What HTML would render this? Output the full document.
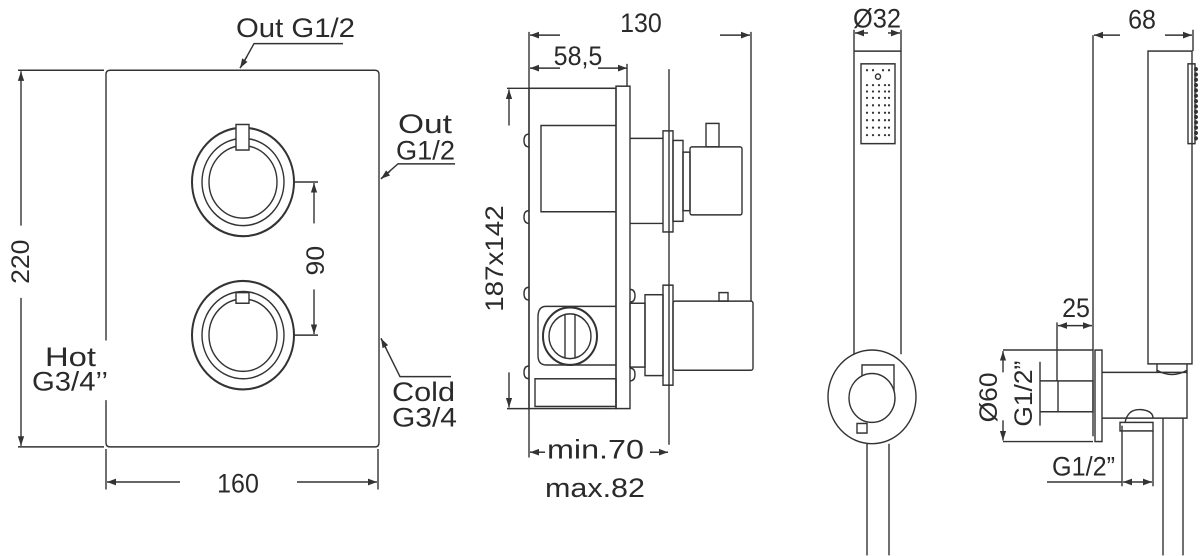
<!DOCTYPE html>
<html><head><meta charset="utf-8"><style>
html,body{margin:0;padding:0;background:#fff;width:1200px;height:556px;overflow:hidden}
svg{display:block}
text{font-family:"Liberation Sans",sans-serif;fill:#2a2a2a;font-size:25px}
</style></head><body>
<svg width="1200" height="556" viewBox="0 0 1200 556" xmlns="http://www.w3.org/2000/svg">
<defs>
<marker id="a" viewBox="0 0 10 10" refX="10" refY="5" markerWidth="9" markerHeight="9" orient="auto-start-reverse" markerUnits="userSpaceOnUse"><path d="M0,1.5 L10,5 L0,8.5 z" fill="#333"/></marker>
</defs>
<g transform="scale(1 1.064)">
<g fill="none" stroke="#333" stroke-width="1.4">
<!-- Panel 1 -->
<path d="M106,320 V70 Q106,66 110,66 H375 Q379,66 379,70 V416 Q379,420 375,420 H110 Q106,420 106,416 V376"/>
<circle cx="243" cy="171" r="51" stroke-width="2"/><circle cx="243" cy="171" r="41"/><circle cx="243" cy="171" r="34"/>
<rect x="236" y="117" width="13" height="24" fill="#fff"/>
<circle cx="243" cy="315" r="51" stroke-width="2"/><circle cx="243" cy="315" r="41"/><circle cx="243" cy="315" r="34"/>
<rect x="236" y="275" width="13" height="10" fill="#fff"/>
<path d="M294,171 H318 M294,315 H318"/>
<path d="M314,210 V172" marker-end="url(#a)"/><path d="M314,272 V314" marker-end="url(#a)"/>
<path d="M18,66 H104 M18,420 H104"/>
<path d="M21,212 V67" marker-end="url(#a)"/><path d="M21,280 V419" marker-end="url(#a)"/>
<path d="M106,422 V460 M378,422 V460"/>
<path d="M180,453 H107" marker-end="url(#a)"/><path d="M297,453 H377" marker-end="url(#a)"/>
<path d="M343,41 H254 L241,63" /><path d="M247,53 L240,64" marker-end="url(#a)"/>
<path d="M455,154 H398 L381,168"/><path d="M390,161 L381,168" marker-end="url(#a)"/>
<path d="M451,354 H400 L381,318"/><path d="M386,327 L381,318" marker-end="url(#a)"/>
<!-- Panel 2 -->
<path d="M560,33 H530" marker-end="url(#a)"/><path d="M720,33 H750" marker-end="url(#a)"/>
<path d="M529,30 V384 M751,30 V283"/>
<path d="M560,64 H530" marker-end="url(#a)"/><path d="M598,64 H627" marker-end="url(#a)"/>
<path d="M627,60 V81"/>
<path d="M507,83 H616 M507,384 H529"/>
<rect x="529" y="83" width="87" height="301"/>
<rect x="616" y="81" width="14" height="303"/>
<path d="M616,118 H541 V199 H616"/>
<path d="M529,126 q-5,0 -5,6 q0,6 5,6 M529,198 q-5,0 -5,6 q0,6 5,6 M529,270 q-5,0 -5,6 q0,6 5,6 M529,344 q-5,0 -5,6 q0,6 5,6"/>
<path d="M630,272 q5,0 5,6 q0,6 -5,6 M630,346 q5,0 5,6 q0,6 -5,6"/>
<path d="M669,65 V418"/>
<path d="M630,130 H663 M630,210 H663"/>
<rect x="663" y="123" width="10" height="95"/>
<rect x="673" y="132" width="10" height="76"/>
<rect x="683" y="143" width="7" height="55"/>
<rect x="690" y="138" width="52" height="64" rx="2"/>
<rect x="706" y="116" width="13" height="22"/>
<rect x="630" y="285" width="15" height="60"/>
<rect x="645" y="277" width="18" height="76"/>
<rect x="663" y="268" width="10" height="94"/>
<rect x="673" y="283" width="80" height="65" rx="2"/>
<rect x="719" y="275" width="9" height="8"/>
<path d="M616,288 H546 Q538,288 538,298 V334 Q538,343 546,343 H616"/>
<circle cx="570" cy="316" r="27" stroke-width="2"/><circle cx="570" cy="316" r="21"/>
<path d="M565,296 V336 M575,296 V336"/>
<rect x="535" y="356" width="81" height="26"/>
<path d="M509,118 V84" marker-end="url(#a)"/><path d="M509,350 V383" marker-end="url(#a)"/>
<path d="M545,425 H530" marker-end="url(#a)"/><path d="M650,425 H668" marker-end="url(#a)"/>
<path d="M529,384 V430"/>
<!-- Panel 3 -->
<path d="M868,31 H855" marker-end="url(#a)"/><path d="M888,31 H900" marker-end="url(#a)"/>
<path d="M854,28 V48 M901,28 V48"/>
<path d="M854,48 H901 V333 M854,48 V333"/>
<rect x="861" y="60" width="34" height="75"/>
<circle cx="872" cy="373" r="44"/>
<rect x="862" y="343" width="32" height="30" fill="#fff"/>
<circle cx="872" cy="374" r="23" fill="#fff"/>
<rect x="857" y="398" width="10" height="9"/>
<path d="M867,417 V522 M889,417 V522"/>
<circle cx="878" cy="72" r="2.5"/>
<!-- Panel 4 -->
<path d="M1120,33 H1094" marker-end="url(#a)"/><path d="M1165,33 H1192" marker-end="url(#a)"/>
<path d="M1093,33 V410 M1193,28 V48"/>
<rect x="1148" y="48" width="44" height="294"/>
<rect x="1188" y="60" width="7" height="75"/>
<rect x="1095" y="329" width="7" height="86"/>
<path d="M1102,350 H1187 V393 H1102"/>
<path d="M1157,342 V350 M1187,342 V350 M1157,348 Q1172,356 1187,348"/>
<path d="M1163,393 V522 M1183,393 V522"/>
<path d="M1125,397 Q1128,384 1141,385 Q1153,386 1153,393"/>
<rect x="1120" y="397" width="33" height="8"/>
<path d="M1003,329 H1093 M1003,415 H1093"/>
<path d="M1003,350 V330" marker-end="url(#a)"/><path d="M1003,395 V414" marker-end="url(#a)"/>
<path d="M1040,340 V400"/>
<path d="M1040,358 H1058 M1040,387 H1058"/>
<rect x="1058" y="358" width="35" height="29"/>
<path d="M1057,303 V358"/>
<path d="M1075,306 H1058" marker-end="url(#a)"/><path d="M1075,306 H1092" marker-end="url(#a)"/>
<path d="M1047,453 H1122 M1122,400 V457 M1153,405 V457"/>
<path d="M1138,453 H1123" marker-end="url(#a)"/><path d="M1138,453 H1152" marker-end="url(#a)"/>
</g>
<g>
<text x="236" y="35" textLength="119" lengthAdjust="spacingAndGlyphs">Out G1/2</text>
<text x="398" y="125" textLength="54" lengthAdjust="spacingAndGlyphs">Out</text><text x="396" y="150" textLength="59" lengthAdjust="spacingAndGlyphs">G1/2</text>
<text x="392" y="377" textLength="63" lengthAdjust="spacingAndGlyphs">Cold</text><text x="392" y="401" textLength="65" lengthAdjust="spacingAndGlyphs">G3/4</text>
<text x="45" y="344" textLength="51" lengthAdjust="spacingAndGlyphs">Hot</text><text x="32" y="367" textLength="76" lengthAdjust="spacingAndGlyphs">G3/4’’</text>
<text x="238" y="463" text-anchor="middle">160</text>
<text transform="translate(29,246) rotate(-90)" text-anchor="middle">220</text>
<text transform="translate(324,245) rotate(-90)" text-anchor="middle">90</text>
<text x="641" y="30" text-anchor="middle">130</text>
<text x="578" y="61" text-anchor="middle">58,5</text>
<text transform="translate(503,293) rotate(-90)" textLength="100" lengthAdjust="spacingAndGlyphs">187x142</text>
<text x="547" y="431" textLength="97" lengthAdjust="spacingAndGlyphs">min.70</text>
<text x="545" y="467" textLength="100" lengthAdjust="spacingAndGlyphs">max.82</text>
<text x="853" y="26" textLength="48" lengthAdjust="spacingAndGlyphs">Ø32</text>
<text x="1142" y="27" text-anchor="middle">68</text>
<text x="1076" y="298" text-anchor="middle">25</text>
<text transform="translate(997,397) rotate(-90)" textLength="47" lengthAdjust="spacingAndGlyphs">Ø60</text>
<text transform="translate(1032,401) rotate(-90)" textLength="62" lengthAdjust="spacingAndGlyphs">G1/2”</text>
<text x="1052" y="447" textLength="63" lengthAdjust="spacingAndGlyphs">G1/2”</text>
</g>
<g fill="#333">
<circle cx="867" cy="66" r="1.1"/><circle cx="873" cy="66" r="1.1"/><circle cx="883" cy="66" r="1.1"/><circle cx="889" cy="66" r="1.1"/>
<circle cx="867" cy="80" r="1.1"/><circle cx="873" cy="80" r="1.1"/><circle cx="879" cy="80" r="1.1"/><circle cx="885" cy="80" r="1.1"/><circle cx="889" cy="80" r="1.1"/>
<circle cx="867" cy="86" r="1.1"/><circle cx="873" cy="86" r="1.1"/><circle cx="879" cy="86" r="1.1"/><circle cx="885" cy="86" r="1.1"/><circle cx="889" cy="86" r="1.1"/>
<circle cx="867" cy="92" r="1.1"/><circle cx="873" cy="92" r="1.1"/><circle cx="879" cy="92" r="1.1"/><circle cx="885" cy="92" r="1.1"/><circle cx="889" cy="92" r="1.1"/>
<circle cx="867" cy="99" r="1.1"/><circle cx="873" cy="99" r="1.1"/><circle cx="879" cy="99" r="1.1"/><circle cx="885" cy="99" r="1.1"/><circle cx="889" cy="99" r="1.1"/>
<circle cx="867" cy="106" r="1.1"/><circle cx="873" cy="106" r="1.1"/><circle cx="879" cy="106" r="1.1"/><circle cx="885" cy="106" r="1.1"/><circle cx="889" cy="106" r="1.1"/>
<circle cx="867" cy="113" r="1.1"/><circle cx="873" cy="113" r="1.1"/><circle cx="879" cy="113" r="1.1"/><circle cx="885" cy="113" r="1.1"/><circle cx="889" cy="113" r="1.1"/>
<circle cx="867" cy="120" r="1.1"/><circle cx="873" cy="120" r="1.1"/><circle cx="879" cy="120" r="1.1"/><circle cx="885" cy="120" r="1.1"/><circle cx="889" cy="120" r="1.1"/>
<circle cx="867" cy="127" r="1.1"/><circle cx="873" cy="127" r="1.1"/><circle cx="879" cy="127" r="1.1"/><circle cx="885" cy="127" r="1.1"/><circle cx="889" cy="127" r="1.1"/>
<circle cx="1196" cy="65" r="2"/><circle cx="1196" cy="70" r="2"/><circle cx="1196" cy="75" r="2"/><circle cx="1196" cy="80" r="2"/><circle cx="1196" cy="85" r="2"/><circle cx="1196" cy="90" r="2"/><circle cx="1196" cy="95" r="2"/><circle cx="1196" cy="100" r="2"/><circle cx="1196" cy="105" r="2"/><circle cx="1196" cy="110" r="2"/><circle cx="1196" cy="115" r="2"/><circle cx="1196" cy="120" r="2"/><circle cx="1196" cy="125" r="2"/><circle cx="1196" cy="130" r="2"/>
</g>
</g>
</svg>
</body></html>
